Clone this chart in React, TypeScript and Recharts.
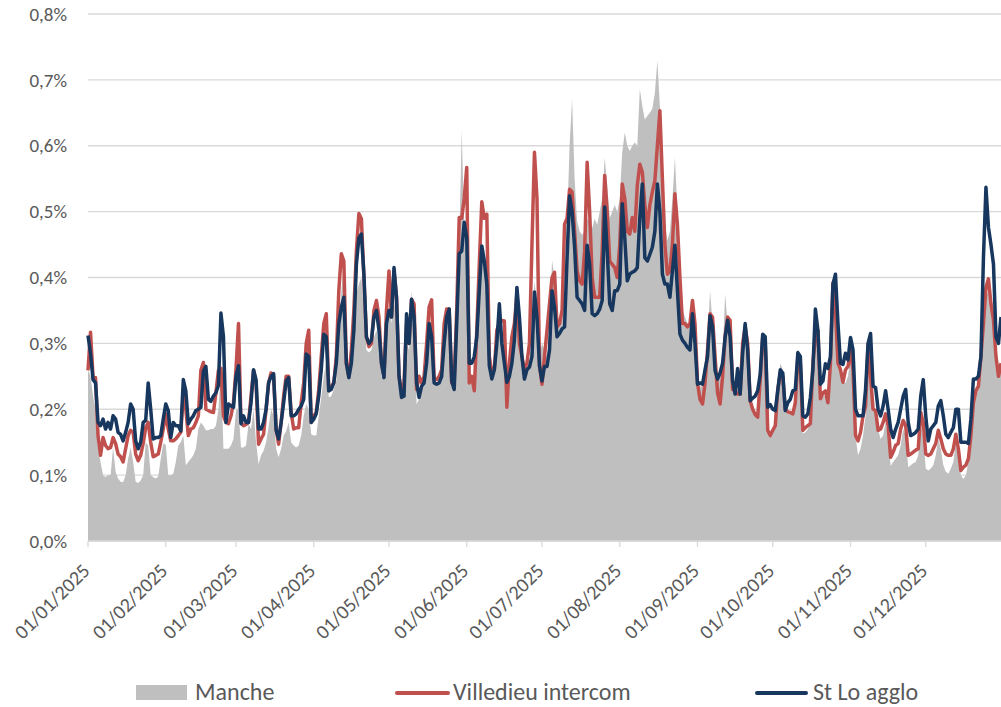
import { Area, CartesianGrid, ComposedChart, Legend, Line, XAxis, YAxis } from 'recharts';

const FONT = 'Calibri, Carlito, Lato, sans-serif';
const TEXT = '#595959';
const GRID = '#D9D9D9';

// day index (0 = 01/01/2025) of each month start, and its label
const monthStarts = [0, 31, 59, 90, 120, 151, 181, 212, 243, 273, 304, 334];
const monthLabels = [
  '01/01/2025', '01/02/2025', '01/03/2025', '01/04/2025', '01/05/2025', '01/06/2025',
  '01/07/2025', '01/08/2025', '01/09/2025', '01/10/2025', '01/11/2025', '01/12/2025',
];
const yTicks = [0, 0.1, 0.2, 0.3, 0.4, 0.5, 0.6, 0.7, 0.8];

// daily values in %, one line per month
const manche = [
  0.26, 0.25, 0.22, 0.2, 0.14, 0.12, 0.1, 0.097, 0.1, 0.1, 0.142, 0.105, 0.095, 0.09, 0.089, 0.1, 0.125, 0.142, 0.12, 0.09, 0.088, 0.092, 0.1, 0.15, 0.145, 0.1, 0.097, 0.095, 0.098, 0.125, 0.148,
  0.146, 0.1, 0.1, 0.102, 0.12, 0.145, 0.15, 0.16, 0.115, 0.12, 0.125, 0.13, 0.14, 0.17, 0.18, 0.175, 0.168, 0.168, 0.17, 0.17, 0.175, 0.2, 0.26, 0.14, 0.14, 0.14, 0.145, 0.155,
  0.198, 0.2, 0.142, 0.142, 0.145, 0.178, 0.17, 0.2, 0.15, 0.117, 0.13, 0.137, 0.15, 0.173, 0.2, 0.19, 0.14, 0.127, 0.14, 0.16, 0.167, 0.18, 0.15, 0.145, 0.142, 0.145, 0.16, 0.19, 0.208, 0.2, 0.162,
  0.16, 0.16, 0.19, 0.218, 0.25, 0.274, 0.218, 0.22, 0.23, 0.243, 0.3, 0.38, 0.415, 0.26, 0.246, 0.26, 0.3, 0.375, 0.39, 0.4, 0.35, 0.29, 0.286, 0.29, 0.309, 0.32, 0.3, 0.25, 0.245, 0.3,
  0.365, 0.33, 0.37, 0.33, 0.24, 0.215, 0.22, 0.3, 0.29, 0.38, 0.33, 0.208, 0.215, 0.23, 0.24, 0.27, 0.32, 0.33, 0.25, 0.235, 0.24, 0.25, 0.31, 0.33, 0.34, 0.24, 0.23, 0.33, 0.45, 0.623, 0.48,
  0.45, 0.26, 0.25, 0.24, 0.3, 0.38, 0.44, 0.42, 0.4, 0.27, 0.25, 0.255, 0.3, 0.34, 0.3, 0.29, 0.24, 0.25, 0.27, 0.3, 0.37, 0.32, 0.28, 0.25, 0.26, 0.27, 0.3, 0.395, 0.36, 0.28,
  0.3, 0.29, 0.28, 0.32, 0.426, 0.4, 0.335, 0.335, 0.34, 0.38, 0.48, 0.6, 0.671, 0.55, 0.486, 0.47, 0.465, 0.47, 0.49, 0.482, 0.475, 0.489, 0.48, 0.5, 0.52, 0.582, 0.54, 0.49, 0.5, 0.51, 0.5,
  0.52, 0.59, 0.62, 0.6, 0.592, 0.6, 0.605, 0.6, 0.686, 0.66, 0.64, 0.645, 0.65, 0.656, 0.68, 0.729, 0.66, 0.55, 0.48, 0.456, 0.47, 0.52, 0.582, 0.5, 0.37, 0.35, 0.34, 0.33, 0.33, 0.37, 0.33,
  0.24, 0.235, 0.235, 0.26, 0.3, 0.38, 0.33, 0.28, 0.25, 0.245, 0.28, 0.375, 0.33, 0.3, 0.245, 0.225, 0.24, 0.25, 0.28, 0.33, 0.28, 0.21, 0.2, 0.19, 0.19, 0.24, 0.31, 0.3, 0.168, 0.16,
  0.165, 0.18, 0.23, 0.27, 0.26, 0.2, 0.193, 0.193, 0.193, 0.21, 0.29, 0.27, 0.163, 0.165, 0.17, 0.18, 0.25, 0.34, 0.31, 0.213, 0.22, 0.22, 0.21, 0.27, 0.37, 0.35, 0.27, 0.26, 0.24, 0.24, 0.25,
  0.28, 0.26, 0.16, 0.13, 0.14, 0.16, 0.19, 0.28, 0.25, 0.2, 0.2, 0.17, 0.155, 0.16, 0.18, 0.16, 0.114, 0.12, 0.125, 0.13, 0.145, 0.17, 0.16, 0.112, 0.115, 0.118, 0.12, 0.13, 0.175, 0.16,
  0.11, 0.107, 0.11, 0.115, 0.13, 0.155, 0.14, 0.115, 0.105, 0.102, 0.11, 0.12, 0.15, 0.13, 0.1, 0.094, 0.1, 0.12, 0.15, 0.2, 0.22, 0.23, 0.27, 0.32, 0.37, 0.38, 0.35, 0.32, 0.26, 0.25, 0.26,
];

const villedieu = [
  0.259, 0.317, 0.25, 0.248, 0.16, 0.13, 0.157, 0.145, 0.14, 0.142, 0.157, 0.148, 0.132, 0.128, 0.12, 0.14, 0.16, 0.168, 0.165, 0.132, 0.122, 0.13, 0.148, 0.172, 0.18, 0.15, 0.128, 0.13, 0.132, 0.15, 0.17,
  0.193, 0.17, 0.152, 0.152, 0.155, 0.16, 0.165, 0.223, 0.2, 0.16, 0.17, 0.172, 0.18, 0.19, 0.259, 0.271, 0.2, 0.198, 0.196, 0.195, 0.225, 0.259, 0.262, 0.19, 0.18, 0.178, 0.19, 0.21,
  0.26, 0.33, 0.18, 0.175, 0.177, 0.18, 0.22, 0.259, 0.24, 0.147, 0.155, 0.162, 0.2, 0.24, 0.255, 0.25, 0.17, 0.147, 0.18, 0.22, 0.25, 0.25, 0.195, 0.17, 0.172, 0.172, 0.21, 0.24, 0.3, 0.32, 0.18,
  0.19, 0.195, 0.23, 0.28, 0.33, 0.345, 0.228, 0.235, 0.24, 0.28, 0.38, 0.436, 0.425, 0.27, 0.25, 0.29, 0.35, 0.44, 0.497, 0.489, 0.4, 0.31, 0.295, 0.3, 0.35, 0.365, 0.34, 0.27, 0.25, 0.35,
  0.41, 0.34, 0.41, 0.37, 0.25, 0.228, 0.24, 0.33, 0.3, 0.367, 0.36, 0.23, 0.25, 0.24, 0.25, 0.3, 0.355, 0.366, 0.245, 0.245, 0.25, 0.26, 0.33, 0.352, 0.352, 0.24, 0.245, 0.35, 0.491, 0.49, 0.52,
  0.567, 0.24, 0.25, 0.228, 0.32, 0.42, 0.515, 0.49, 0.496, 0.28, 0.255, 0.26, 0.32, 0.33, 0.335, 0.334, 0.203, 0.27, 0.31, 0.33, 0.375, 0.3, 0.28, 0.26, 0.27, 0.3, 0.45, 0.59, 0.52, 0.266,
  0.238, 0.28, 0.32, 0.36, 0.4, 0.408, 0.325, 0.33, 0.35, 0.481, 0.49, 0.534, 0.53, 0.47, 0.41, 0.395, 0.39, 0.44, 0.575, 0.5, 0.4, 0.37, 0.37, 0.37, 0.44, 0.555, 0.5, 0.425, 0.42, 0.415, 0.4,
  0.45, 0.542, 0.52, 0.47, 0.466, 0.491, 0.47, 0.54, 0.572, 0.56, 0.51, 0.476, 0.51, 0.53, 0.547, 0.6, 0.653, 0.55, 0.45, 0.405, 0.41, 0.45, 0.527, 0.48, 0.4, 0.33, 0.33, 0.325, 0.33, 0.365, 0.33,
  0.24, 0.215, 0.208, 0.24, 0.29, 0.345, 0.34, 0.28, 0.225, 0.208, 0.25, 0.31, 0.34, 0.335, 0.23, 0.228, 0.223, 0.223, 0.3, 0.325, 0.3, 0.213, 0.2, 0.192, 0.188, 0.245, 0.31, 0.3, 0.168, 0.16,
  0.168, 0.175, 0.23, 0.255, 0.25, 0.2, 0.196, 0.195, 0.193, 0.21, 0.278, 0.27, 0.168, 0.172, 0.175, 0.178, 0.27, 0.31, 0.32, 0.216, 0.225, 0.228, 0.21, 0.27, 0.392, 0.35, 0.27, 0.26, 0.241, 0.26, 0.265,
  0.289, 0.26, 0.16, 0.152, 0.165, 0.19, 0.205, 0.299, 0.25, 0.2, 0.198, 0.168, 0.17, 0.18, 0.193, 0.175, 0.127, 0.135, 0.145, 0.148, 0.17, 0.183, 0.175, 0.13, 0.132, 0.135, 0.138, 0.14, 0.195, 0.18,
  0.132, 0.13, 0.132, 0.14, 0.148, 0.168, 0.155, 0.14, 0.132, 0.13, 0.13, 0.14, 0.162, 0.14, 0.107, 0.112, 0.115, 0.125, 0.16, 0.21, 0.228, 0.235, 0.28, 0.33, 0.385, 0.398, 0.36, 0.335, 0.28, 0.25, 0.27,
];

const stLo = [
  0.312, 0.285, 0.245, 0.24, 0.18, 0.175, 0.185, 0.17, 0.18, 0.17, 0.19, 0.185, 0.165, 0.162, 0.152, 0.165, 0.18, 0.208, 0.2, 0.152, 0.14, 0.15, 0.18, 0.183, 0.24, 0.2, 0.155, 0.157, 0.157, 0.16, 0.185,
  0.208, 0.198, 0.157, 0.18, 0.175, 0.175, 0.167, 0.245, 0.228, 0.178, 0.185, 0.19, 0.198, 0.2, 0.203, 0.258, 0.265, 0.215, 0.212, 0.22, 0.225, 0.236, 0.346, 0.31, 0.18, 0.208, 0.205, 0.203,
  0.25, 0.266, 0.178, 0.19, 0.18, 0.18, 0.21, 0.26, 0.245, 0.17, 0.17, 0.18, 0.2, 0.24, 0.25, 0.254, 0.168, 0.155, 0.18, 0.21, 0.243, 0.248, 0.19, 0.19, 0.193, 0.2, 0.205, 0.215, 0.284, 0.28, 0.18,
  0.185, 0.193, 0.22, 0.26, 0.314, 0.31, 0.228, 0.23, 0.24, 0.27, 0.33, 0.355, 0.37, 0.27, 0.248, 0.27, 0.32, 0.42, 0.46, 0.466, 0.405, 0.31, 0.3, 0.305, 0.34, 0.35, 0.32, 0.27, 0.248, 0.33,
  0.35, 0.34, 0.415, 0.37, 0.25, 0.218, 0.22, 0.345, 0.3, 0.367, 0.34, 0.24, 0.218, 0.235, 0.24, 0.27, 0.33, 0.31, 0.24, 0.238, 0.24, 0.25, 0.3, 0.34, 0.352, 0.243, 0.23, 0.33, 0.436, 0.44, 0.484,
  0.46, 0.27, 0.27, 0.28, 0.31, 0.38, 0.448, 0.425, 0.39, 0.266, 0.246, 0.26, 0.3, 0.36, 0.3, 0.27, 0.241, 0.25, 0.27, 0.305, 0.385, 0.34, 0.28, 0.246, 0.26, 0.264, 0.28, 0.378, 0.34, 0.266,
  0.243, 0.265, 0.265, 0.29, 0.38, 0.355, 0.31, 0.315, 0.322, 0.325, 0.43, 0.524, 0.5, 0.446, 0.37, 0.365, 0.36, 0.35, 0.449, 0.42, 0.345, 0.342, 0.345, 0.352, 0.365, 0.507, 0.44, 0.36, 0.35, 0.38, 0.38,
  0.39, 0.512, 0.46, 0.395, 0.405, 0.408, 0.41, 0.415, 0.49, 0.542, 0.43, 0.425, 0.435, 0.446, 0.47, 0.542, 0.5, 0.405, 0.39, 0.39, 0.37, 0.41, 0.449, 0.38, 0.314, 0.305, 0.3, 0.294, 0.29, 0.345, 0.3,
  0.238, 0.24, 0.238, 0.26, 0.28, 0.342, 0.325, 0.259, 0.246, 0.255, 0.27, 0.309, 0.335, 0.31, 0.243, 0.223, 0.262, 0.223, 0.285, 0.33, 0.29, 0.213, 0.217, 0.22, 0.228, 0.253, 0.314, 0.31, 0.203, 0.207,
  0.2, 0.198, 0.228, 0.26, 0.255, 0.198, 0.21, 0.215, 0.228, 0.23, 0.286, 0.28, 0.19, 0.188, 0.193, 0.218, 0.26, 0.352, 0.32, 0.238, 0.243, 0.269, 0.262, 0.28, 0.39, 0.405, 0.33, 0.27, 0.268, 0.285, 0.275,
  0.309, 0.29, 0.2, 0.19, 0.19, 0.19, 0.23, 0.3, 0.315, 0.235, 0.233, 0.2, 0.19, 0.205, 0.228, 0.2, 0.17, 0.157, 0.17, 0.18, 0.2, 0.22, 0.23, 0.18, 0.16, 0.162, 0.165, 0.17, 0.22, 0.245,
  0.19, 0.152, 0.17, 0.175, 0.18, 0.205, 0.213, 0.19, 0.162, 0.157, 0.165, 0.172, 0.2, 0.2, 0.15, 0.15, 0.15, 0.148, 0.185, 0.246, 0.246, 0.25, 0.28, 0.43, 0.537, 0.476, 0.45, 0.42, 0.31, 0.3, 0.34,
];

const rows = manche.map((m, i) => ({ day: i, manche: m, villedieu: villedieu[i], stLo: stLo[i] }));

const pct = (v: number) => `${v.toFixed(1).replace('.', ',')}%`;

function DateTick({ x, y, payload }: any) {
  const label = monthLabels[monthStarts.indexOf(payload.value)];
  const bx = x + 3;
  const by = y + 23;
  return (
    <text
      x={bx}
      y={by}
      transform={`rotate(-45 ${bx} ${by})`}
      textAnchor="end"
      fill={TEXT}
      fontSize={20}
      fontFamily={FONT}
    >
      {label}
    </text>
  );
}

function ChartLegend() {
  const text = { position: 'absolute' as const, top: 12, lineHeight: '26px', whiteSpace: 'nowrap' as const };
  return (
    <div style={{ position: 'relative', width: 1001, height: 40, fontFamily: FONT, fontSize: 24, color: TEXT }}>
      <span style={{ position: 'absolute', left: 136, top: 18, width: 51, height: 15, background: '#BFBFBF' }} />
      <span style={{ ...text, left: 195 }}>Manche</span>
      <span style={{ position: 'absolute', left: 395, top: 24, width: 55, height: 4, borderRadius: 2, background: '#C0504D' }} />
      <span style={{ ...text, left: 453 }}>Villedieu intercom</span>
      <span style={{ position: 'absolute', left: 755, top: 24, width: 53, height: 4, borderRadius: 2, background: '#17375E' }} />
      <span style={{ ...text, left: 813 }}>St Lo agglo</span>
    </div>
  );
}

export default function App() {
  return (
    <div style={{ width: 1001, height: 707, background: '#FFFFFF' }}>
      <style>{'body{margin:0}'}</style>
      <ComposedChart width={1001} height={707} data={rows} margin={{ top: 14, right: 0, bottom: 0, left: 0 }}>
        <CartesianGrid vertical={false} stroke={GRID} strokeWidth={1.3} />
        <XAxis
          dataKey="day"
          type="number"
          domain={[0, 364]}
          ticks={monthStarts}
          interval={0}
          height={126}
          axisLine={{ stroke: GRID, strokeWidth: 1.3 }}
          tickLine={{ stroke: GRID, strokeWidth: 1.3 }}
          tickSize={6}
          tick={<DateTick />}
        />
        <YAxis
          domain={[0, 0.8]}
          ticks={yTicks}
          width={88}
          axisLine={false}
          tickLine={false}
          tickMargin={15}
          tickFormatter={pct}
          tick={{ fill: TEXT, fontSize: 19, fontFamily: FONT }}
        />
        <Legend
          verticalAlign="bottom"
          align="left"
          content={<ChartLegend />}
          wrapperStyle={{ left: 0, width: 1001, height: 40 }}
        />
        <Area
          type="linear"
          dataKey="manche"
          name="Manche"
          fill="#BFBFBF"
          fillOpacity={1}
          stroke="none"
          activeDot={false}
          isAnimationActive={false}
        />
        <Line
          type="linear"
          dataKey="villedieu"
          name="Villedieu intercom"
          stroke="#C0504D"
          strokeWidth={3.5}
          strokeLinejoin="round"
          dot={false}
          activeDot={false}
          isAnimationActive={false}
        />
        <Line
          type="linear"
          dataKey="stLo"
          name="St Lo agglo"
          stroke="#17375E"
          strokeWidth={3.5}
          strokeLinejoin="round"
          dot={false}
          activeDot={false}
          isAnimationActive={false}
        />
      </ComposedChart>
    </div>
  );
}
